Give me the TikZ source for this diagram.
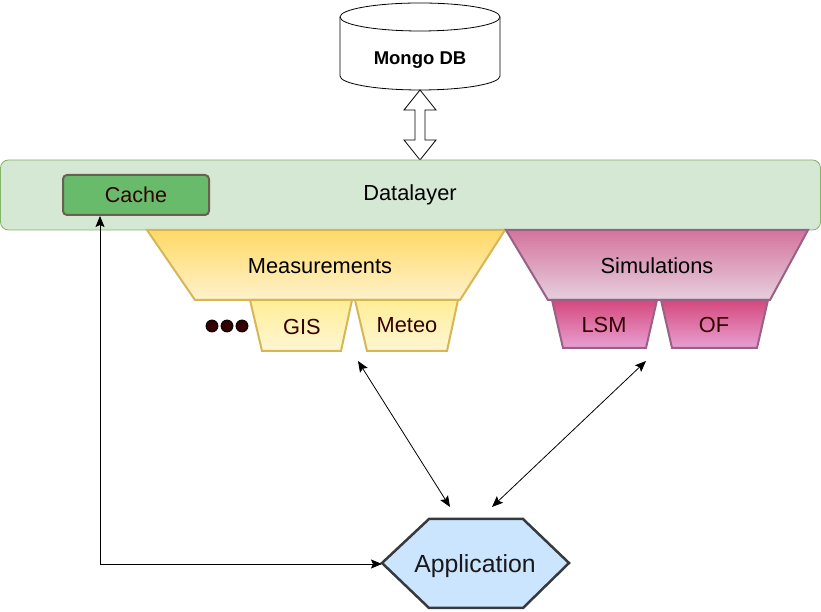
\documentclass[tikz,border=0pt]{standalone}
\usepackage{fontspec}
\setmainfont{Liberation Sans}
\usetikzlibrary{arrows.meta}
\definecolor{dlfill}{HTML}{D5E8D4}
\definecolor{dldraw}{HTML}{82B366}
\definecolor{cachefill}{RGB}{103,187,107}
\definecolor{cachedraw}{RGB}{105,96,82}
\definecolor{maroon}{RGB}{51,0,0}
\definecolor{mtop}{HTML}{FFD966}
\definecolor{mbot}{HTML}{FFF2CC}
\definecolor{mdraw}{HTML}{D6B656}
\definecolor{gtop}{RGB}{255,238,150}
\definecolor{gbot}{RGB}{255,246,212}
\definecolor{stop}{HTML}{D5739D}
\definecolor{sbot}{HTML}{E6D0DE}
\definecolor{sdraw}{HTML}{996185}
\definecolor{ltop}{RGB}{212,72,124}
\definecolor{lbot}{RGB}{232,160,210}
\definecolor{appfill}{HTML}{CCE5FF}
\definecolor{appdraw}{HTML}{36393D}
\tikzset{
  lbl/.style={inner sep=0pt, font=\fontsize{21.8}{26}\selectfont},
  sublbl/.style={lbl, text=maroon},
  meas/.style={draw=mdraw, line width=2pt, line join=miter, top color=mtop, bottom color=mbot},
  measub/.style={draw=mdraw, line width=2pt, top color=gtop, bottom color=gbot},
  simu/.style={draw=sdraw, line width=2pt, top color=stop, bottom color=sbot},
  simsub/.style={draw=sdraw, line width=2pt, top color=ltop, bottom color=lbot},
  conn/.style={line width=0.8pt, {Stealth[length=11pt,width=9pt,inset=2pt]}-{Stealth[length=11pt,width=9pt,inset=2pt]}},
}
\begin{document}
\begin{tikzpicture}[x=1pt,y=1pt]
\useasboundingbox (0,0) rectangle (821,612);
% Mongo DB cylinder
\draw[fill=white, line width=0.8pt] (340,595) -- (340,536) arc (180:360:80 and 14) -- (500,595);
\draw[fill=white, line width=0.8pt] (420,595) ellipse (80 and 14);
\node[lbl, font=\fontsize{18.5}{22}\selectfont\bfseries] (mongo) at (420,552) {Mongo DB};
% double block arrow
\draw[fill=white, line width=0.8pt] (420,522) -- (436,502) -- (425,502) -- (425,472) -- (436,472) -- (420,452) -- (404,472) -- (415,472) -- (415,502) -- (404,502) -- cycle;
% Datalayer
\draw[fill=dlfill, draw=dldraw, line width=0.8pt, rounded corners=8] (0.5,382) rectangle (820.5,452);
\node[lbl] (datalayer) at (410,417) {Datalayer};
% Cache
\node[draw=cachedraw, fill=cachefill, line width=2pt, rounded corners=4, minimum width=146pt, minimum height=40pt, inner sep=0pt, font=\fontsize{21.5}{26}\selectfont, text=maroon] (cache) at (136,417) {Cache};
% Measurements
\draw[meas] (147,382) -- (505,382) -- (460,312) -- (195,312) -- cycle;
\node[lbl] (measurements) at (320,346) {Measurements};
\draw[measub] (250,312) -- (352,312) -- (341,261) -- (262,261) -- cycle;
\node[sublbl] (gis) at (302,285) {GIS};
\draw[measub] (355,312) -- (458,312) -- (447,261) -- (367,261) -- cycle;
\node[sublbl] (meteo) at (407,287) {Meteo};
\foreach \x in {212,227,242} \draw[fill=maroon, line width=0.8pt] (\x,286) circle (6);
% Simulations
\draw[simu] (506,382) -- (808,382) -- (770,312) -- (548,312) -- cycle;
\node[lbl] (simulations) at (657,346) {Simulations};
\draw[simsub] (552,312) -- (657,312) -- (646,264) -- (563,264) -- cycle;
\node[sublbl] (lsm) at (604,287) {LSM};
\draw[simsub] (661,312) -- (768,312) -- (757,264) -- (672,264) -- cycle;
\node[sublbl] (of) at (714,287) {OF};
% Application
\draw[fill=appfill, draw=appdraw, line width=2.5pt, line join=miter] (382,49) -- (429,93) -- (523,93) -- (569,49) -- (523,4) -- (429,4) -- cycle;
\node[lbl, font=\fontsize{24.8}{30}\selectfont, text=black!90] (app) at (475,46) {Application};
% connector endpoints
\coordinate (cacheB) at (100,396);
\coordinate (bend) at (100,48);
\coordinate (appW) at (382,48);
\coordinate (measA) at (358,251);
\coordinate (appM) at (450,105);
\coordinate (simA) at (646,251);
\coordinate (appS) at (492,105);
\draw[conn] (cacheB) -- (bend) -- (appW);
\draw[conn] (measA) -- (appM);
\draw[conn] (simA) -- (appS);
\end{tikzpicture}
\end{document}
